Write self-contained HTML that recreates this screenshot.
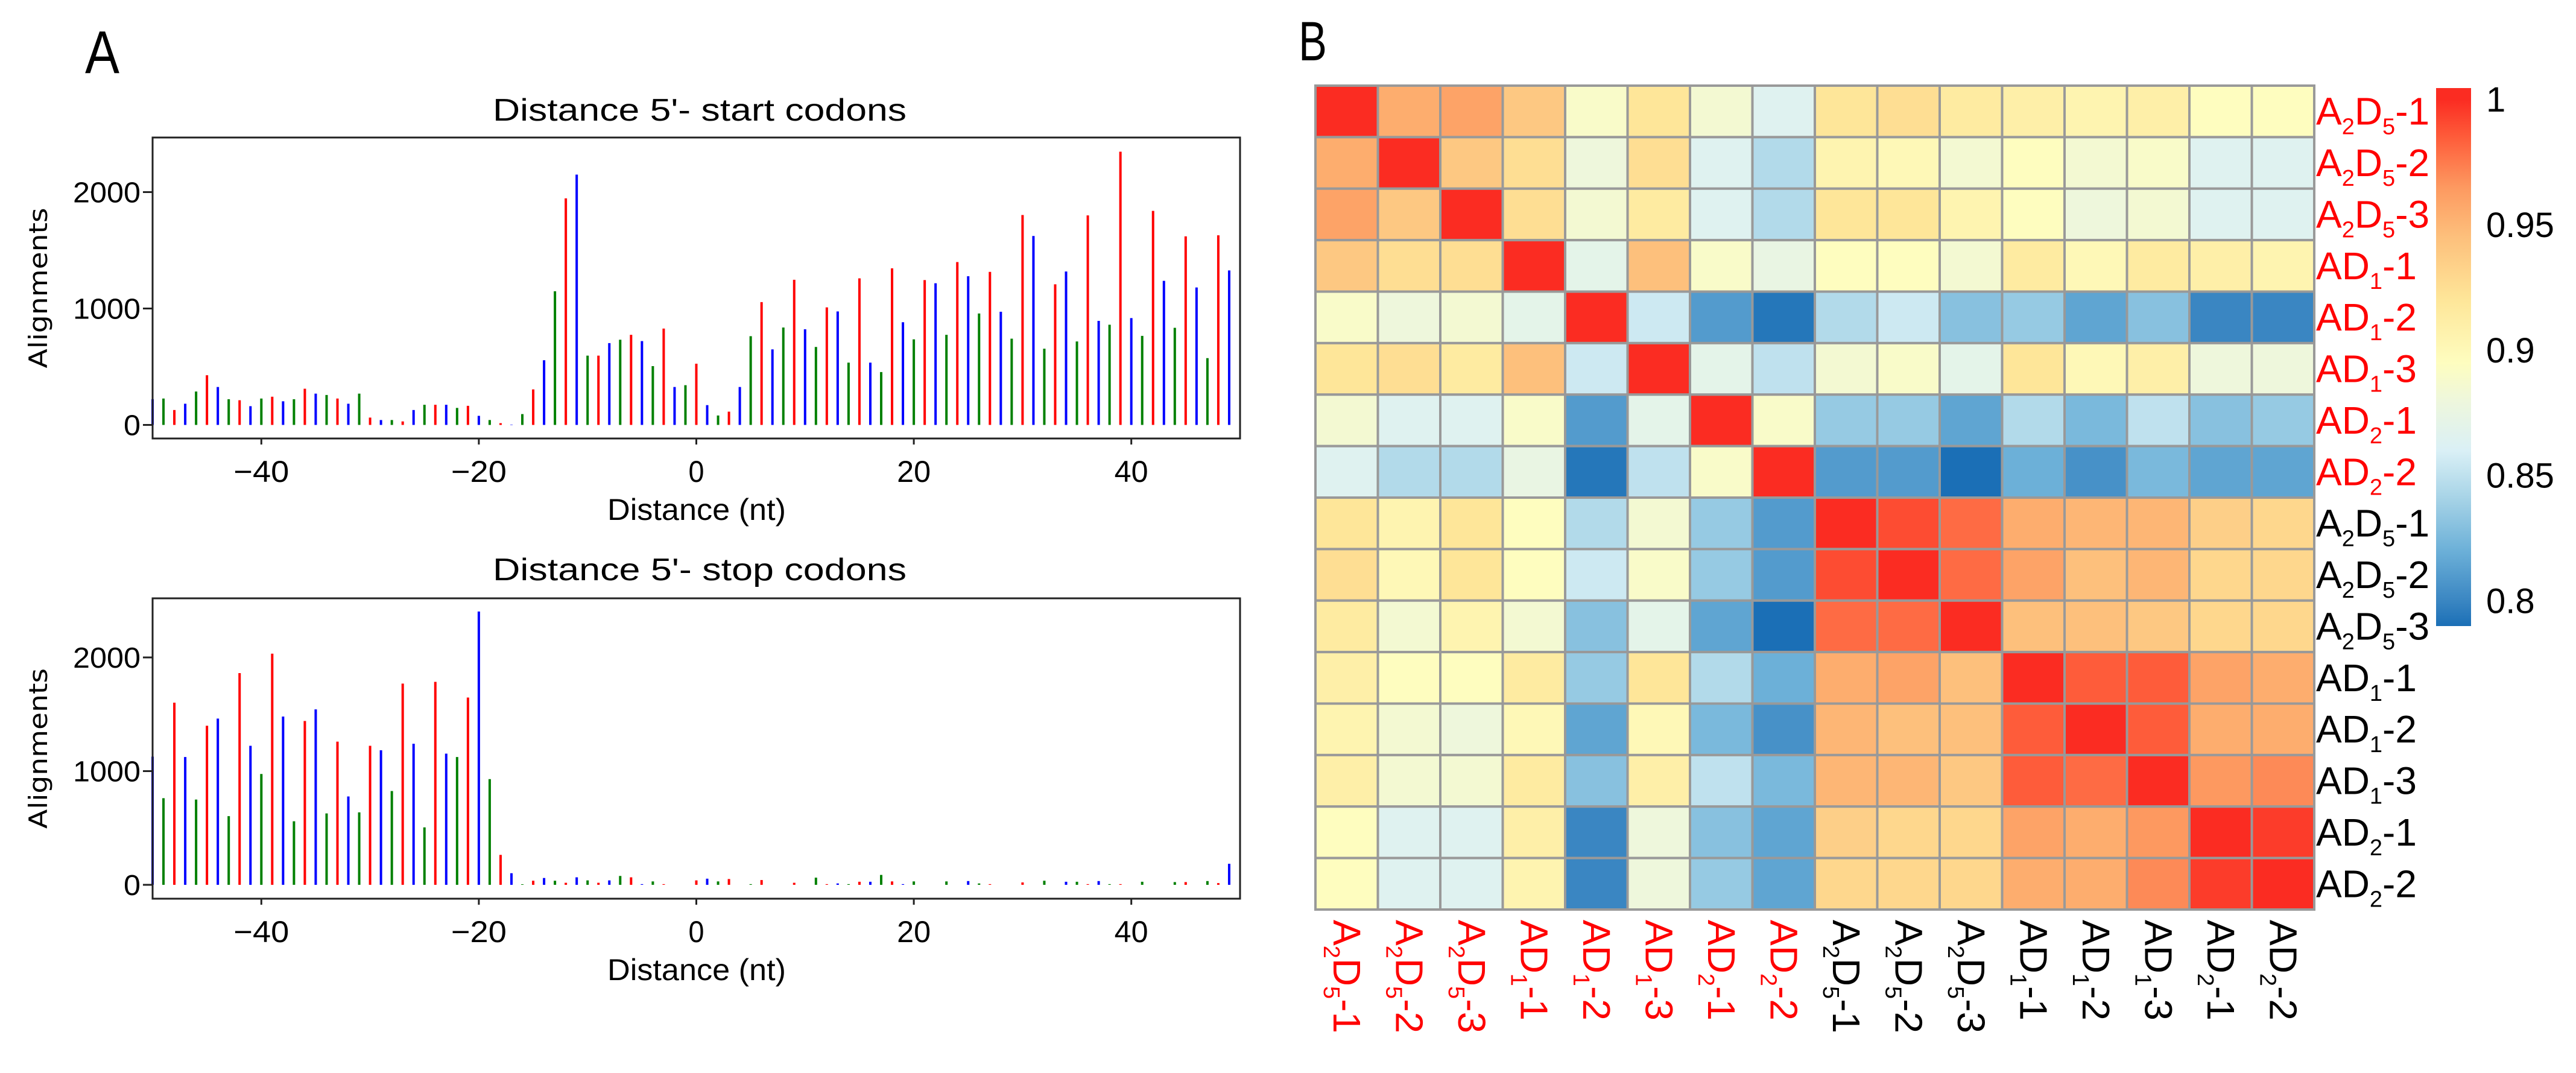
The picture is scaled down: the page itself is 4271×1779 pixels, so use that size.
<!DOCTYPE html>
<html><head><meta charset="utf-8"><style>
html,body{margin:0;padding:0;background:#fff;}
svg{display:block;}
</style></head><body>
<svg id="fig" width="4271" height="1779" viewBox="0 0 4271 1779" xmlns="http://www.w3.org/2000/svg">
<rect width="4271" height="1779" fill="#fff"/>
<text x="141" y="121" font-family="Liberation Sans, sans-serif" font-size="100" textLength="57" lengthAdjust="spacingAndGlyphs">A</text>
<text x="2153" y="100" font-family="Liberation Sans, sans-serif" font-size="92" textLength="47" lengthAdjust="spacingAndGlyphs">B</text>
<g id="charts"></g>
<g id="heat"></g>
</svg>
<script>
// ---- bar chart data ----
const positions = [];
for (let i = -50; i <= 49; i++) positions.push(i);
const startValues = [221,227,128,182,287,427,326,221,212,161,227,242,203,221,311,269,257,227,182,269,63,42,42,30,128,173,173,173,146,164,78,42,15,3,93,305,556,1148,1946,2150,595,595,703,732,774,720,505,828,326,341,526,170,81,114,326,762,1055,649,837,1247,822,670,1010,975,535,1259,535,454,1345,882,735,1244,1217,774,1399,1277,957,1315,972,741,1803,1623,655,1208,1318,717,1800,894,861,2347,918,765,1839,1238,834,1620,1181,574,1629,1327];
const stopValues = [1127,762,1602,1124,750,1399,1462,604,1862,1223,975,2033,1480,559,1441,1543,628,1259,777,637,1223,1184,825,1770,1241,505,1785,1154,1124,1647,2404,930,263,102,5,36,60,36,18,66,39,18,39,78,66,6,30,6,0,0,39,54,30,51,0,6,42,0,0,18,0,63,6,12,6,27,27,87,30,6,30,0,0,30,0,33,12,6,0,0,21,0,36,0,27,27,6,33,6,6,0,27,0,0,24,24,0,33,15,185];
const barColors = ['#0000ff','#008000','#ff0000'];
const xTicks = [-40,-20,0,20,40];
const yTicks = [0,1000,2000];

const NS = 'http://www.w3.org/2000/svg';
function mk(tag, attrs, parent){const e=document.createElementNS(NS,tag);for(const k in attrs)e.setAttribute(k,attrs[k]);parent.appendChild(e);return e;}

function drawBar(cfg, values, name){
  const g = mk('g',{},document.getElementById('charts'));
  
  
  const xs = v => cfg.x0 + (v + 50) * (cfg.x1 - cfg.x0) / 100;
  const ys = v => cfg.zeroY - v * cfg.perUnit;
  const t = mk('text',{x:1160,y:cfg.titleY,'font-family':'Liberation Sans, sans-serif','font-size':52,'text-anchor':'middle',textLength:686,lengthAdjust:'spacingAndGlyphs'},g);
  t.textContent = cfg.title;
  
  
  positions.forEach((p,i)=>{
    if(values[i]<=0) return;
    const l = mk('line',{x1:xs(p),x2:xs(p),y1:ys(0),y2:ys(values[i]),stroke:barColors[i%3],'stroke-width':4},g);
    
    
  });
  const fr = mk('rect',{x:cfg.x0,y:cfg.top,width:cfg.x1-cfg.x0,height:cfg.bottom-cfg.top,fill:'none',stroke:'#222','stroke-width':3},g);
  
  
  yTicks.forEach(v=>{
    mk('line',{x1:cfg.x0-16,x2:cfg.x0,y1:ys(v),y2:ys(v),stroke:'#222','stroke-width':3},g);
    const tl = mk('text',{x:cfg.x0-20,y:ys(v)+17,'font-family':'Liberation Sans, sans-serif','font-size':48,'text-anchor':'end',textLength:String(v).length*28,lengthAdjust:'spacingAndGlyphs'},g);
    tl.textContent = v;
    
    
  });
  xTicks.forEach(v=>{
    mk('line',{x1:xs(v),x2:xs(v),y1:cfg.bottom,y2:cfg.bottom+10,stroke:'#222','stroke-width':3},g);
    const tl = mk('text',{x:xs(v),y:cfg.bottom+72,'font-family':'Liberation Sans, sans-serif','font-size':50,'text-anchor':'middle',textLength:(v<0?92:(v===0?26:56)),lengthAdjust:'spacingAndGlyphs'},g);
    tl.textContent = v<0 ? '\u2212'+(-v) : v;
    
    
  });
  const xl = mk('text',{x:1155,y:cfg.bottom+135,'font-family':'Liberation Sans, sans-serif','font-size':50,'text-anchor':'middle',textLength:296,lengthAdjust:'spacingAndGlyphs'},g);
  xl.textContent = 'Distance (nt)';
  
  
  const cy = (cfg.top+cfg.bottom)/2;
  const yl = mk('text',{x:0,y:0,transform:`translate(78,${cy}) rotate(-90)`,'font-family':'DejaVu Sans, sans-serif','font-size':42,'text-anchor':'middle',textLength:266,lengthAdjust:'spacingAndGlyphs'},g);
  yl.textContent = 'Alignments';
  
  
}
drawBar({x0:253,x1:2056,top:228,bottom:727,zeroY:704.5,perUnit:0.193,titleY:200,title:"Distance 5'- start codons"}, startValues, 'start-codon-chart');
drawBar({x0:253,x1:2056,top:992,bottom:1490,zeroY:1467,perUnit:0.1885,titleY:962,title:"Distance 5'- stop codons"}, stopValues, 'stop-codon-chart');

// ---- heatmap data ----
const rowLabels = [['A','2','D','5','-1'],['A','2','D','5','-2'],['A','2','D','5','-3'],['AD','1','','','-1'],['AD','1','','','-2'],['AD','1','','','-3'],['AD','2','','','-1'],['AD','2','','','-2'],['A','2','D','5','-1'],['A','2','D','5','-2'],['A','2','D','5','-3'],['AD','1','','','-1'],['AD','1','','','-2'],['AD','1','','','-3'],['AD','2','','','-1'],['AD','2','','','-2']];
const labelRed = [1,1,1,1,1,1,1,1,0,0,0,0,0,0,0,0];
const r1 = [1,.955,.96,.94,.89,.92,.885,.865,.92,.925,.915,.91,.905,.91,.895,.895];
const r2 = [.955,1,.94,.925,.88,.925,.865,.845,.905,.9,.885,.895,.885,.89,.865,.865];
const r3 = [.96,.94,1,.925,.885,.915,.865,.845,.92,.92,.905,.895,.88,.885,.865,.865];
const r4 = [.94,.925,.925,1,.87,.945,.89,.875,.895,.895,.885,.915,.9,.915,.91,.905];
const r5 = [.89,.88,.885,.87,1,.855,.81,.79,.845,.855,.83,.835,.815,.83,.8,.8];
const r6 = [.92,.925,.915,.945,.855,1,.87,.85,.885,.89,.87,.92,.9,.91,.88,.88];
const r7 = [.885,.865,.865,.89,.81,.87,1,.89,.835,.835,.815,.845,.825,.85,.83,.835];
const r8 = [.865,.845,.845,.875,.79,.85,.89,1,.81,.81,.785,.82,.805,.825,.815,.815];
const r9 = [.92,.905,.92,.895,.845,.885,.835,.81,1,.99,.98,.955,.95,.95,.935,.93];
const r10 = [.925,.9,.92,.895,.855,.89,.835,.81,.99,1,.98,.96,.945,.95,.93,.93];
const r11 = [.915,.885,.905,.885,.83,.87,.815,.785,.98,.98,1,.945,.945,.94,.93,.93];
const r12 = [.91,.895,.895,.915,.835,.92,.845,.82,.955,.96,.945,1,.985,.985,.96,.955];
const r13 = [.905,.885,.88,.9,.815,.9,.825,.805,.95,.945,.945,.985,1,.985,.955,.955];
const r14 = [.91,.885,.885,.915,.83,.91,.85,.825,.95,.95,.94,.985,.98,1,.965,.97];
const r15 = [.895,.865,.865,.91,.8,.88,.83,.815,.935,.93,.93,.96,.955,.965,1,.995];
const r16 = [.895,.865,.865,.905,.8,.88,.835,.815,.93,.93,.93,.955,.955,.97,.995,1];
const matrix = [r1,r2,r3,r4,r5,r6,r7,r8,r9,r10,r11,r12,r13,r14,r15,r16];
const legendTicks = [1,0.95,0.9,0.85,0.8];

const stops = [[0.785,'#1b6fb6'],[0.80,'#3a86c2'],[0.82,'#6cb0d8'],[0.84,'#a4d2e6'],[0.86,'#daf0f6'],[0.88,'#eef7dc'],[0.895,'#fefdbf'],[0.92,'#fee699'],[0.945,'#fdc07c'],[0.965,'#fd9960'],[0.985,'#fe5c3a'],[1.0,'#fb2c22']];
function hex(c){return [1,3,5].map(i=>parseInt(c.substr(i,2),16));}
function cmap(v){
  if(v<=stops[0][0]) return stops[0][1];
  for(let i=1;i<stops.length;i++){
    if(v<=stops[i][0]){const a=stops[i-1],b=stops[i];const t=(v-a[0])/(b[0]-a[0]);const ca=hex(a[1]),cb=hex(b[1]);
      return 'rgb('+ca.map((x,k)=>Math.round(x+(cb[k]-x)*t)).join(',')+')';}
  }
  return stops[stops.length-1][1];
}
(function(){
  const g = document.getElementById('heat');
  
  
  const X0=2181, X1=3837, Y0=142, Y1=1508, n=16;
  const cw=(X1-X0)/n, ch=(Y1-Y0)/n;
  matrix.forEach((row,r)=>row.forEach((v,c)=>{
    const rc = mk('rect',{x:X0+c*cw,y:Y0+r*ch,width:cw,height:ch,fill:cmap(v),stroke:'#999','stroke-width':4},g);
    
    
  }));
  function label(parent, parts, x, y, color){
    const t = mk('text',{x:x,y:y,'font-family':'Liberation Sans, sans-serif','font-size':64,fill:color},parent);
    const [a,s1,b,s2,tail] = parts;
    const add=(txt,sub)=>{if(!txt)return;const sp=mk('tspan',{},t);sp.textContent=txt;if(sub){sp.setAttribute('font-size',38);sp.setAttribute('dy',16);}else if(t.childNodes.length>1){sp.setAttribute('dy',-16);}};
    add(a,false);add(s1,true);add(b,false);if(s2){add(s2,true);}add(tail,false);
    return t;
  }
  rowLabels.forEach((p,r)=>{
    const t = label(g,p,3840,Y0+(r+0.5)*ch+22,labelRed[r]?'#ff0000':'#000');
    
    
  });
  rowLabels.forEach((p,c)=>{
    const gg = mk('g',{transform:`translate(${X0+(c+0.5)*cw-22},1525) rotate(90)`},g);
    const t = label(gg,p,0,0,labelRed[c]?'#ff0000':'#000');
    
    
  });
  const defs = mk('defs',{},g);
  const lg = mk('linearGradient',{id:'cbg',x1:0,y1:1,x2:0,y2:0},defs);
  const vmin=0.79, vmax=1.0046;
  stops.forEach(s=>{mk('stop',{offset:Math.max(0,(s[0]-vmin)/(vmax-vmin)),'stop-color':s[1]},lg);});
  const cb = mk('rect',{x:4039,y:146,width:58,height:892,fill:'url(#cbg)'},g);
  
  
  const cy = v => 146 + (vmax - v) * 892 / (vmax - vmin);
  legendTicks.forEach(v=>{
    const t = mk('text',{x:4122,y:cy(v)+20,'font-family':'Liberation Sans, sans-serif','font-size':58,fill:'#000'},g);
    t.textContent = String(v);
    
    
  });
})();
</script>
</body></html>
